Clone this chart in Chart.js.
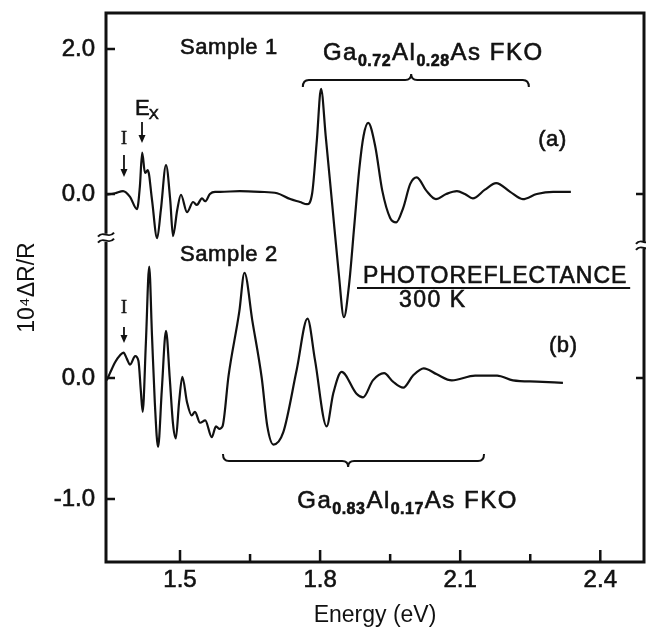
<!DOCTYPE html>
<html>
<head>
<meta charset="utf-8">
<script src="https://cdn.jsdelivr.net/npm/chart.js@4"></script>
<style>
html, body { margin: 0; padding: 0; background: #fff; }
#wrap { width: 646px; height: 631px; }
</style>
</head>
<body>
<div id="wrap"><canvas id="ChartCanvas"></canvas></div>
<script>
// sample 1, trace (a): photon energy (eV) and 10^4 dR/R
var energyA = [1.344, 1.361, 1.378, 1.393, 1.408, 1.414, 1.419, 1.425, 1.431, 1.440,
    1.451, 1.459, 1.470, 1.479, 1.485, 1.494, 1.502, 1.515, 1.528, 1.536,
    1.547, 1.554, 1.564, 1.575, 1.586, 1.628, 1.671, 1.708, 1.736, 1.757,
    1.772, 1.783, 1.793, 1.802, 1.812, 1.826, 1.840, 1.851, 1.862, 1.873,
    1.884, 1.893, 1.903, 1.918, 1.933, 1.950, 1.963, 1.978, 1.993, 2.007,
    2.027, 2.048, 2.070, 2.093, 2.110, 2.127, 2.153, 2.177, 2.207, 2.234,
    2.264, 2.299, 2.337];
var signalA = [-0.01, 0.01, 0.04, -0.04, -0.21, 0.10, 0.57, 0.29, 0.33, -0.08,
    -0.61, -0.22, 0.40, -0.08, -0.58, -0.22, -0.01, -0.25, -0.11, -0.15,
    -0.06, -0.10, 0.00, 0.03, 0.03, 0.04, 0.03, 0.01, -0.07, -0.11,
    -0.14, 0.01, 0.74, 1.45, 0.80, -0.15, -1.10, -1.70, -1.25, -0.45,
    0.35, 0.80, 0.98, 0.66, 0.05, -0.33, -0.39, -0.19, 0.14, 0.23,
    0.05, -0.07, 0.00, 0.04, 0.00, -0.06, 0.06, 0.15, 0.03, -0.07,
    0.00, 0.03, 0.03];

// sample 2, trace (b)
var energyB = [1.343, 1.350, 1.361, 1.372, 1.379, 1.386, 1.393, 1.404, 1.411, 1.416,
    1.420, 1.427, 1.434, 1.440, 1.446, 1.453, 1.461, 1.470, 1.478, 1.485,
    1.491, 1.498, 1.505, 1.515, 1.525, 1.532, 1.543, 1.554, 1.568, 1.577,
    1.584, 1.591, 1.604, 1.627, 1.638, 1.655, 1.675, 1.687, 1.700, 1.721,
    1.750, 1.773, 1.789, 1.814, 1.828, 1.846, 1.878, 1.892, 1.913, 1.937,
    1.956, 1.978, 1.999, 2.022, 2.050, 2.082, 2.132, 2.179, 2.213, 2.264,
    2.320];
var signalB = [-0.02, 0.04, 0.13, 0.19, 0.21, 0.16, 0.11, 0.18, 0.14, -0.10,
    -0.28, 0.30, 0.92, 0.35, -0.20, -0.57, -0.10, 0.39, 0.00, -0.38,
    -0.50, -0.20, 0.01, -0.20, -0.31, -0.28, -0.37, -0.35, -0.49, -0.40,
    -0.42, -0.40, 0.02, 0.55, 0.87, 0.47, 0.00, -0.40, -0.55, -0.45,
    0.07, 0.49, 0.15, -0.40, -0.13, 0.05, -0.13, -0.16, -0.02, 0.04,
    -0.03, -0.08, 0.02, 0.08, 0.03, -0.02, 0.02, 0.02, -0.02, -0.03,
    -0.04];

var energyTicks = [1.5, 1.8, 2.1, 2.4];
var energyMinorTicks = [1.65, 1.95, 2.25];
var upperTicks = [0.0, 2.0];   // trace (a) scale
var lowerTicks = [-1.0, 0.0];  // trace (b) scale

var energyRange = [1.3415, 2.4936];
var upperRange = [-5.076, 2.497];
var lowerRange = [-1.521, 3.017];

var ink = '#111111';
var sans = '"Liberation Sans", Arial, sans-serif';

function upperToLower(v) //where a value of trace (a) sits on the visible (b) axis
{
    return lowerRange[0] + (v - upperRange[0]) / (upperRange[1] - upperRange[0]) * (lowerRange[1] - lowerRange[0]);
}

var leftTickValues = lowerTicks.concat(upperTicks.map(upperToLower));
var leftTickLabels = lowerTicks.concat(upperTicks).map(function(v) { return v.toFixed(1); });

function toPoints(xs, ys)
{
    return xs.map(function(x, i) { return {x: x, y: ys[i]}; });
}

function heavyText(ctx, text, x, y) //scanned print is a bit heavier than a plain fill
{
    ctx.lineWidth = 0.6;
    ctx.strokeText(text, x, y);
    ctx.fillText(text, x, y);
}

function drawFormula(ctx, parts, x, y)
{
    parts.forEach(function(p)
    {
        var sub = p[1];
        ctx.font = sub ? 'bold 16px ' + sans : '24px ' + sans;
        ctx.letterSpacing = sub ? '0.5px' : '1.5px';
        heavyText(ctx, p[0], x, sub ? y + 6 : y);
        x += ctx.measureText(p[0]).width + (sub ? 1 : 0);
    });
    ctx.letterSpacing = '0px';
}

function drawArrow(ctx, x, y1, y2)
{
    ctx.lineWidth = 1.8;
    ctx.beginPath();
    ctx.moveTo(x, y1);
    ctx.lineTo(x, y2 - 6);
    ctx.stroke();
    ctx.beginPath();
    ctx.moveTo(x - 3.5, y2 - 8);
    ctx.lineTo(x + 3.5, y2 - 8);
    ctx.lineTo(x, y2);
    ctx.closePath();
    ctx.fill();
}

function drawBrace(ctx, x1, x2, xm, y, dir) //dir -1: tip points up, +1: tip points down
{
    ctx.lineWidth = 2;
    ctx.beginPath();
    ctx.moveTo(x1, y - dir * 7);
    ctx.quadraticCurveTo(x1, y, x1 + 6, y);
    ctx.lineTo(xm - 6, y);
    ctx.quadraticCurveTo(xm, y, xm, y + dir * 6);
    ctx.quadraticCurveTo(xm, y, xm + 6, y);
    ctx.lineTo(x2 - 6, y);
    ctx.quadraticCurveTo(x2, y, x2, y - dir * 7);
    ctx.stroke();
}

function drawBreak(ctx, cx, cy)
{
    ctx.lineWidth = 2;
    [-3, 3].forEach(function(d)
    {
        ctx.beginPath();
        ctx.moveTo(cx - 8, cy + d + 2);
        ctx.bezierCurveTo(cx - 3, cy + d - 5, cx + 3, cy + d + 5, cx + 8, cy + d - 2);
        ctx.stroke();
    });
}

var decorations =
{
    id: 'decorations',
    afterDraw: function(chart)
    {
        var ctx = chart.ctx;
        var area = chart.chartArea;
        var sx = chart.scales.x, sy = chart.scales.y, sa = chart.scales.yA;
        var X = function(e) { return sx.getPixelForValue(e); };
        var Y = function(v) { return sy.getPixelForValue(v); };

        ctx.save();
        ctx.strokeStyle = ink;
        ctx.fillStyle = ink;

        //frame, broken between the two traces
        var gl = Y(1.16), gr = Y(1.10);
        ctx.lineWidth = 3;
        ctx.lineJoin = 'miter';
        ctx.beginPath();
        ctx.moveTo(area.left, gl - 4);
        ctx.lineTo(area.left, area.top);
        ctx.lineTo(area.right, area.top);
        ctx.lineTo(area.right, gr - 4);
        ctx.moveTo(area.right, gr + 4);
        ctx.lineTo(area.right, area.bottom);
        ctx.lineTo(area.left, area.bottom);
        ctx.lineTo(area.left, gl + 4);
        ctx.stroke();
        drawBreak(ctx, area.left, gl);
        drawBreak(ctx, area.right, gr);

        //inward tick marks
        ctx.lineWidth = 2.5;
        ctx.beginPath();
        leftTickValues.forEach(function(v) { ctx.moveTo(area.left, Y(v)); ctx.lineTo(area.left + 9, Y(v)); });
        [sa.getPixelForValue(0), sy.getPixelForValue(0)].forEach(function(p) { ctx.moveTo(area.right, p); ctx.lineTo(area.right - 8, p); });
        energyTicks.forEach(function(e) { ctx.moveTo(X(e), area.bottom); ctx.lineTo(X(e), area.bottom - 12); });
        energyMinorTicks.forEach(function(e) { ctx.moveTo(X(e), area.bottom); ctx.lineTo(X(e), area.bottom - 8); });
        ctx.stroke();

        //labels
        ctx.textBaseline = 'alphabetic';
        ctx.textAlign = 'left';
        ctx.font = '22px ' + sans;
        ctx.letterSpacing = '0.6px';
        heavyText(ctx, 'Sample 1', X(1.500), Y(2.678));
        heavyText(ctx, 'Sample 2', X(1.500), Y(0.967));
        heavyText(ctx, '(a)', X(2.267), Y(1.917));
        heavyText(ctx, '(b)', X(2.290), Y(0.215));
        ctx.font = '23px ' + sans;
        ctx.letterSpacing = '1px';
        heavyText(ctx, 'PHOTOREFLECTANCE', X(1.892), Y(0.785));
        ctx.letterSpacing = '1.5px';
        heavyText(ctx, '300 K', X(1.969), Y(0.587));
        ctx.letterSpacing = '0px';
        ctx.lineWidth = 2;
        ctx.beginPath();
        ctx.moveTo(X(1.879), Y(0.744));
        ctx.lineTo(X(2.464), Y(0.744));
        ctx.stroke();

        drawFormula(ctx, [['Ga', 0], ['0.72', 1], ['Al', 0], ['0.28', 1], ['As FKO', 0]], X(1.806), Y(2.628));
        drawFormula(ctx, [['Ga', 0], ['0.83', 1], ['Al', 0], ['0.17', 1], ['As FKO', 0]], X(1.751), Y(-1.074));
        drawBrace(ctx, X(1.763), X(2.247), X(1.995), Y(2.463), -1);
        drawBrace(ctx, X(1.592), X(2.151), X(1.860), Y(-0.686), 1);

        //feature markers
        ctx.font = '18px "Liberation Serif", serif';
        ctx.textAlign = 'center';
        heavyText(ctx, 'I', X(1.380), Y(1.934));
        heavyText(ctx, 'I', X(1.380), Y(0.537));
        drawArrow(ctx, X(1.380), Y(1.843), Y(1.661));
        drawArrow(ctx, X(1.380), Y(0.421), Y(0.289));
        ctx.textAlign = 'left';
        ctx.font = '22px ' + sans;
        heavyText(ctx, 'E', X(1.4036), Y(2.174));
        ctx.font = '15px ' + sans;
        heavyText(ctx, 'X', X(1.4330), Y(2.140));
        drawArrow(ctx, X(1.4186), Y(2.116), Y(1.942));
        ctx.restore();
    }
};

var climateChart = document.getElementById('ChartCanvas').getContext('2d');

var tickFont = { family: sans, size: 24, lineHeight: 1 };

var config =
{
    type: 'line',
    data:
    {
        datasets:
        [
            {
                data: toPoints(energyA, signalA),
                label: 'Sample 1 (a)',
                borderColor: ink,
                yAxisID: 'yA'
            },
            {
                data: toPoints(energyB, signalB),
                label: 'Sample 2 (b)',
                borderColor: ink,
                yAxisID: 'y'
            }
        ]
    },
    options:
    {
        responsive: true,
        maintainAspectRatio: false,
        animation: false,
        layout: { padding: { top: 13, right: 2, left: 0, bottom: 0 } },
        plugins: { legend: { display: false }, tooltip: { enabled: false } },
        elements:
        {
            point: { radius: 0 },
            line: { borderWidth: 2.2, cubicInterpolationMode: 'monotone', fill: false }
        },
        scales:
        {
            x:
            {
                type: 'linear',
                min: energyRange[0],
                max: energyRange[1],
                afterBuildTicks: function(scale) { scale.ticks = energyTicks.map(function(v) { return {value: v}; }); },
                afterFit: function(scale) { scale.height = 69; scale.paddingLeft = 0; scale.paddingRight = 0; },
                grid: { display: false, drawTicks: false },
                border: { display: false },
                ticks:
                {
                    autoSkip: false,
                    maxRotation: 0,
                    padding: 6,
                    color: ink,
                    textStrokeColor: ink,
                    textStrokeWidth: 0.6,
                    font: tickFont,
                    callback: function(value) { return value.toFixed(1); }
                },
                title:
                {
                    display: true,
                    text: 'Energy (eV)',
                    color: ink,
                    font: { family: sans, size: 23, lineHeight: 1.2 },
                    padding: { top: 0, bottom: 2 }
                }
            },
            y:
            {
                type: 'linear',
                position: 'left',
                min: lowerRange[0],
                max: lowerRange[1],
                afterBuildTicks: function(scale) { scale.ticks = leftTickValues.map(function(v) { return {value: v}; }); },
                afterFit: function(scale) { scale.width = 106; scale.paddingTop = 0; scale.paddingBottom = 0; },
                grid: { display: false, drawTicks: false },
                border: { display: false },
                ticks:
                {
                    autoSkip: false,
                    padding: 11,
                    color: ink,
                    textStrokeColor: ink,
                    textStrokeWidth: 0.6,
                    font: tickFont,
                    callback: function(value, index) { return leftTickLabels[index]; }
                },
                title:
                {
                    display: true,
                    text: '10\u2074\u0394R/R',
                    color: ink,
                    font: { family: sans, size: 23, lineHeight: 1.2 },
                    padding: { top: 14, bottom: 0 }
                }
            },
            yA:
            {
                type: 'linear',
                display: false,
                min: upperRange[0],
                max: upperRange[1],
                afterFit: function(scale) { scale.paddingTop = 0; scale.paddingBottom = 0; }
            }
        }
    },
    plugins: [decorations]
};

var createdChart = new Chart(climateChart, config);
</script>
</body>
</html>
